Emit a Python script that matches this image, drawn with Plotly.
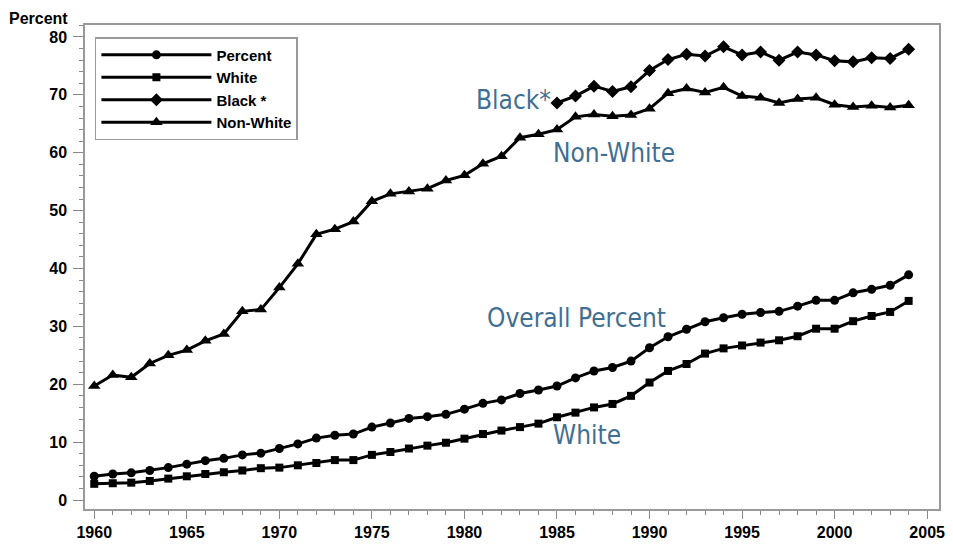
import plotly.graph_objects as go

years = list(range(1960, 2005))
black_years = list(range(1985, 2005))

overall = [4.1, 4.5, 4.7, 5.1, 5.6, 6.2, 6.8, 7.2, 7.8, 8.1,
           8.9, 9.7, 10.7, 11.2, 11.4, 12.6, 13.3, 14.1, 14.4, 14.8,
           15.7, 16.7, 17.3, 18.4, 19.0, 19.7, 21.1, 22.3, 22.9, 24.0,
           26.3, 28.2, 29.5, 30.8, 31.5, 32.1, 32.4, 32.6, 33.5, 34.5,
           34.5, 35.8, 36.4, 37.1, 38.9]

white = [2.8, 2.9, 3.0, 3.3, 3.7, 4.1, 4.5, 4.8, 5.1, 5.5,
         5.6, 6.0, 6.4, 6.9, 6.9, 7.8, 8.3, 8.9, 9.4, 9.9,
         10.6, 11.4, 12.0, 12.6, 13.2, 14.3, 15.1, 16.0, 16.6, 18.0,
         20.3, 22.3, 23.5, 25.3, 26.2, 26.7, 27.2, 27.6, 28.3, 29.6,
         29.6, 30.9, 31.8, 32.5, 34.4]

black = [68.6, 69.8, 71.5, 70.6, 71.4, 74.2, 76.1, 77.0, 76.7, 78.3,
         76.9, 77.4, 76.0, 77.4, 76.9, 75.9, 75.7, 76.4, 76.3, 77.9]

nonwhite = [19.7, 21.6, 21.2, 23.6, 25.0, 25.9, 27.5, 28.7, 32.6, 32.9,
            36.7, 40.8, 45.9, 46.8, 48.1, 51.6, 52.9, 53.3, 53.8, 55.2,
            56.1, 58.1, 59.4, 62.6, 63.2, 64.0, 66.2, 66.6, 66.3, 66.5,
            67.6, 70.3, 71.1, 70.4, 71.3, 69.8, 69.5, 68.6, 69.3, 69.5,
            68.3, 67.9, 68.1, 67.8, 68.2]

legend_names = ["Percent", "White", "Black *", "Non-White"]
label_texts = ["Overall Percent", "White", "Black*", "Non-White"]
label_x = [1981.1, 1984.7, 1984.8, 1984.7]
label_y = [31.4, 11.2, 69.1, 60.0]
label_anchor = ["left", "left", "right", "left"]

fig = go.Figure()
line = dict(color="black", width=3)
fig.add_trace(go.Scatter(x=years, y=overall, name=legend_names[0], mode="lines+markers",
                         line=line, marker=dict(symbol="circle", size=9, color="black")))
fig.add_trace(go.Scatter(x=years, y=white, name=legend_names[1], mode="lines+markers",
                         line=line, marker=dict(symbol="square", size=8, color="black")))
fig.add_trace(go.Scatter(x=black_years, y=black, name=legend_names[2], mode="lines+markers",
                         line=line, marker=dict(symbol="diamond", size=10, color="black")))
fig.add_trace(go.Scatter(x=years, y=nonwhite, name=legend_names[3], mode="lines+markers",
                         line=line, marker=dict(symbol="triangle-up", size=11, color="black")))

for t, x, y, a in zip(label_texts, label_x, label_y, label_anchor):
    fig.add_annotation(x=x, y=y, text=t, showarrow=False, xanchor=a, yanchor="middle",
                       font=dict(family="Liberation Sans Narrow, DejaVu Sans Condensed, Roboto", size=26,
                                 color="#3f6f93"))

fig.add_annotation(x=-0.0919, y=1.0144, xref="paper", yref="paper", text="Percent",
                   showarrow=False, xanchor="left", yanchor="middle",
                   font=dict(family="Liberation Sans, Arial", size=16, color="black", weight="bold"))

tickfont = dict(family="Liberation Sans, Arial", size=16, color="black", weight="bold")
fig.update_xaxes(range=[1959.5, 2005.64], tickmode="linear", tick0=1960, dtick=5,
                 ticks="outside", ticklen=8, tickcolor="#888", tickwidth=1.2,
                 minor=dict(dtick=1, ticks="outside", ticklen=4, tickcolor="#888"),
                 showline=True, linecolor="#999", linewidth=1.5, mirror=True,
                 showgrid=False, zeroline=False, tickfont=tickfont)
fig.update_yaxes(range=[-1.55, 82.07], tickmode="linear", tick0=0, dtick=10,
                 ticks="outside", ticklen=10, tickcolor="#888", tickwidth=1.2,
                 minor=dict(dtick=2, ticks="outside", ticklen=4, tickcolor="#888"),
                 showline=True, linecolor="#999", linewidth=1.5, mirror=True,
                 showgrid=False, zeroline=False, tickfont=tickfont, ticklabelstandoff=3)

fig.update_layout(
    width=953, height=549,
    margin=dict(l=85, r=8, t=25, b=39),
    paper_bgcolor="white", plot_bgcolor="white",
    showlegend=True,
    legend=dict(x=0.0116, y=0.975, xanchor="left", yanchor="top",
                bordercolor="#999", borderwidth=1.5, bgcolor="white",
                itemwidth=110, tracegroupgap=0, entrywidth=228,
                font=dict(family="Liberation Sans, Arial", size=15, color="black", weight="bold")),
)

fig.write_html("out.html", post_script="document.body.style.margin='0';",
               config={"displayModeBar": False})
